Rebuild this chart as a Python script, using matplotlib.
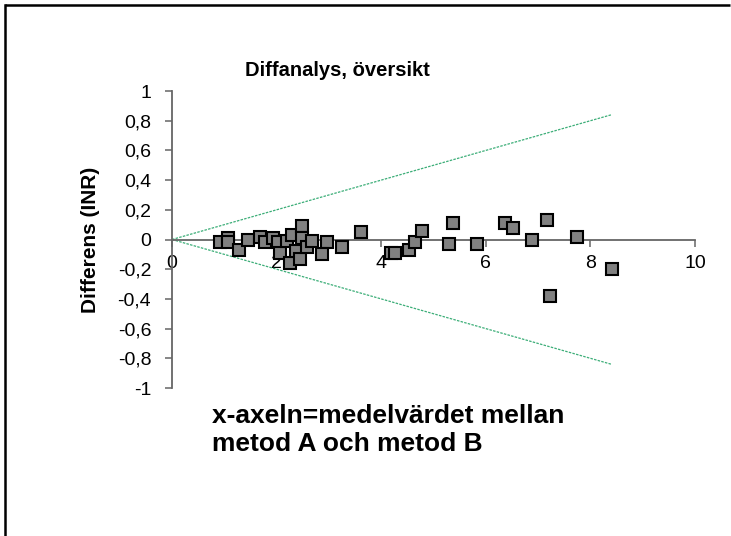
import numpy as np
import matplotlib.pyplot as plt
from matplotlib.lines import Line2D

plt.rcParams['font.family'] = ['Liberation Sans', 'DejaVu Sans']

# ========================
# Data
# ========================
medel = [0.92, 1.07, 1.07, 1.28, 1.45, 1.68, 1.78, 1.93, 2.03, 2.06,
         2.20, 2.30, 2.26, 2.38, 2.45, 2.48, 2.48, 2.58, 2.67, 2.96,
         2.87, 3.25, 3.61, 4.19, 4.26, 4.53, 4.65, 4.78, 5.30, 5.38,
         5.83, 6.37, 6.52, 6.88, 7.17, 7.23, 7.74, 8.41]
differens = [-0.02, 0.01, -0.02, -0.07, 0.00, 0.02, -0.02, 0.01, -0.02, -0.09,
             -0.01, 0.03, -0.16, -0.08, -0.13, 0.09, 0.01, -0.05, -0.01, -0.02,
             -0.10, -0.05, 0.05, -0.09, -0.09, -0.07, -0.02, 0.06, -0.03, 0.11,
             -0.03, 0.11, 0.08, 0.00, 0.13, -0.38, 0.02, -0.20]

# +/- 10 % limit lines
grans_x = [0, 8.4]
grans_upp = [0, 0.84]
grans_ned = [0, -0.84]

x_ticks = [0, 2, 4, 6, 8, 10]
y_ticks = [-1, -0.8, -0.6, -0.4, -0.2, 0, 0.2, 0.4, 0.6, 0.8, 1]

# ========================
# Figure setup
# ========================
fig = plt.figure(figsize=(7.31, 5.36), dpi=100)
ax = fig.add_axes([0.2353, 0.2761, 0.7155, 0.5541])

green = '#3cae78'
ax.plot(grans_x, grans_upp, color=green, lw=0.9, ls=(0, (2, 1)))
ax.plot(grans_x, grans_ned, color=green, lw=0.9, ls=(0, (2, 1)))

ax.plot(medel, differens, ls='none', marker='s', ms=8,
        markerfacecolor='#808080', markeredgecolor='black', markeredgewidth=1.5,
        zorder=5)

ax.set_xlim(0, 10)
ax.set_ylim(-1, 1)

# axes through zero, Excel style
ax.spines['top'].set_visible(False)
ax.spines['right'].set_visible(False)
ax.spines['bottom'].set_position(('data', 0))
ax.spines['left'].set_position(('data', 0))
for s in ['bottom', 'left']:
    ax.spines[s].set_color('#666666')
    ax.spines[s].set_linewidth(1.3)

ax.set_xticks(x_ticks)
ax.set_xticklabels([str(t) for t in x_ticks])
ax.set_yticks(y_ticks)
ax.set_yticklabels([('%g' % t).replace('.', ',') for t in y_ticks])
ax.tick_params(axis='x', direction='out', length=5, width=1.1, color='#666666',
               labelsize=14, pad=6)
ax.tick_params(axis='y', direction='out', length=5, width=1.1, color='#666666',
               labelsize=14, pad=10)

# ========================
# Texts
# ========================
fig.text(337 / 731, 1 - 70 / 536, 'Diffanalys, översikt', ha='center', va='center',
         fontsize=14.5, fontweight='bold')
fig.text(90 / 731, 1 - 240 / 536, 'Differens (INR)', ha='center', va='center',
         rotation=90, fontsize=15, fontweight='bold')
fig.text(212 / 731, 1 - 404 / 536, 'x-axeln=medelvärdet mellan\nmetod A och metod B',
         ha='left', va='top', fontsize=19, fontweight='bold', linespacing=1.2)

# outer frame: only left and top edges fall inside the picture
fig.lines.append(Line2D([4.5 / 731, 4.5 / 731], [0, 1 - 4.5 / 536],
                        transform=fig.transFigure, color='black', lw=1.8))
fig.lines.append(Line2D([4.5 / 731, 0.999], [1 - 4.5 / 536, 1 - 4.5 / 536],
                        transform=fig.transFigure, color='black', lw=1.8,
                        solid_capstyle='butt'))

fig.savefig('out.png', dpi=100)
